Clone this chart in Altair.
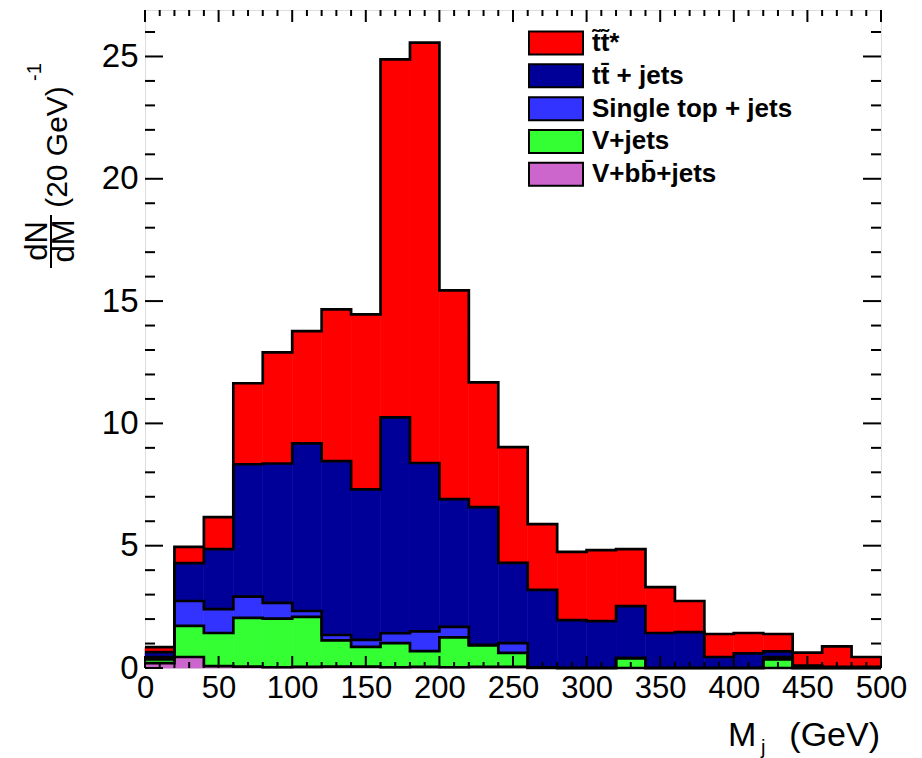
import altair as alt
import pandas as pd
import numpy as np

# ---------------- data ----------------
bin_edges = list(range(0, 501, 20))  # 25 bins of 20 GeV

series_names = ["t̃t̃*", "tt̄ + jets", "Single top + jets", "V+jets", "V+bb̄+jets"]
series_colors = ["#ff0000", "#000099", "#3333ff", "#33ff33", "#cc66cc"]

stop_pair = [0.20, 0.66, 1.31, 3.31, 4.54, 4.59, 6.20, 7.16, 14.63, 17.19, 8.54, 5.10, 4.73,
             2.69, 2.79, 2.90, 2.33, 1.88, 1.27, 0.94, 0.83, 0.71, 0.53, 0.83, 0.40]
ttbar_jets = [0.20, 1.55, 2.45, 5.41, 5.70, 6.85, 7.11, 6.15, 8.83, 6.88, 5.22, 5.63, 3.28,
              3.16, 1.96, 1.92, 2.13, 1.43, 1.47, 0.45, 0.60, 0.23, 0.10, 0.05, 0.05]
single_top = [0.10, 1.02, 0.98, 0.87, 0.64, 0.24, 0.22, 0.29, 0.40, 0.81, 0.43, 0.03, 0.40,
              0.01, 0.0, 0.0, 0.0, 0.0, 0.0, 0.0, 0.0, 0.10, 0.0, 0.0, 0.0]
v_jets = [0.15, 1.27, 1.35, 1.99, 1.99, 2.04, 1.07, 0.80, 0.99, 0.64, 1.22, 0.87, 0.57,
          0.02, 0.0, 0.0, 0.40, 0.0, 0.0, 0.0, 0.0, 0.35, 0.0, 0.0, 0.0]
v_bb_jets = [0.20, 0.45, 0.08, 0.06, 0.03, 0.05, 0.06, 0.06, 0.03, 0.05, 0.03, 0.05, 0.05,
             0.0, 0.0, 0.0, 0.0, 0.0, 0.0, 0.0, 0.0, 0.0, 0.0, 0.0, 0.0]

x_major = list(range(0, 501, 50))
x_minor = [v for v in range(0, 501, 10) if v % 50 != 0]
y_major = list(range(0, 26, 5))
y_minor = [v for v in range(0, 27) if v % 5 != 0]

# ---------------- tables ----------------
stack = [("V+bb̄+jets", v_bb_jets), ("V+jets", v_jets), ("Single top + jets", single_top),
         ("tt̄ + jets", ttbar_jets), ("t̃t̃*", stop_pair)]
lower = np.zeros(len(bin_edges) - 1)
rect_rows, line_rows = [], []
for name, vals in stack:
    upper = lower + np.array(vals)
    for i in range(len(vals)):
        rect_rows.append(dict(series=name, x0=bin_edges[i], x1=bin_edges[i + 1],
                              y0=float(lower[i]), y1=float(upper[i])))
        line_rows.append(dict(series=name, x=bin_edges[i], y=float(upper[i])))
    line_rows.append(dict(series=name, x=bin_edges[-1], y=float(upper[-1])))
    lower = upper
rect_df = pd.DataFrame(rect_rows)
line_df = pd.DataFrame(line_rows)

W, H = 736, 658
FONT = "Liberation Sans"

xscale = alt.Scale(domain=[0, 500], nice=False, zero=False)
yscale = alt.Scale(domain=[0, 26.9], nice=False)
cscale = alt.Scale(domain=series_names, range=series_colors)
xaxis = alt.Axis(values=x_major, title=None, labelFlush=False, labelPadding=5, labelFontSize=31,
                 labelFont=FONT, labelColor="black", ticks=False, domain=False, grid=False)
yaxis = alt.Axis(values=y_major, title=None, labelFlush=False, labelPadding=7, labelFontSize=33,
                 labelFont=FONT, labelColor="black", ticks=False, domain=False, grid=False)

rects = alt.Chart(rect_df).mark_rect(strokeWidth=0.6).encode(
    x=alt.X("x0:Q", scale=xscale, axis=xaxis),
    x2="x1:Q",
    y=alt.Y("y0:Q", scale=yscale, axis=yaxis),
    y2="y1:Q",
    color=alt.Color("series:N", scale=cscale, legend=None),
    stroke=alt.Stroke("series:N", scale=cscale, legend=None),
)

steps = alt.Chart(line_df).mark_line(interpolate="step-after", color="black", strokeWidth=2.7).encode(
    x=alt.X("x:Q", scale=xscale, axis=xaxis),
    y=alt.Y("y:Q", scale=yscale, axis=yaxis),
    detail="series:N",
)


def xticks(vals, y_a, y_b):
    return alt.Chart(pd.DataFrame({"v": vals})).mark_rule(color="black", strokeWidth=2).encode(
        x=alt.X("v:Q", scale=xscale, axis=xaxis), y=alt.value(y_a), y2=alt.value(y_b))


def yticks(vals, x_a, x_b):
    return alt.Chart(pd.DataFrame({"v": vals})).mark_rule(color="black", strokeWidth=2).encode(
        y=alt.Y("v:Q", scale=yscale, axis=yaxis), x=alt.value(x_a), x2=alt.value(x_b))


ticks = [
    xticks(x_major, H, H - 12), xticks(x_minor, H, H - 6),
    xticks(x_major, 0, 12), xticks(x_minor, 0, 6),
    yticks(y_major, 0, 18), yticks(y_minor, 0, 10),
    yticks(y_major, W, W - 18), yticks(y_minor, W, W - 10),
]


def label(txt, x, y, size, angle=0, align="center", baseline="middle", weight="normal"):
    return alt.Chart(pd.DataFrame({"t": [txt]})).mark_text(
        font=FONT, fontSize=size, angle=angle, align=align, baseline=baseline,
        fontWeight=weight, color="black").encode(text="t:N", x=alt.value(x), y=alt.value(y))


frac_bar = alt.Chart(pd.DataFrame({"t": [0]})).mark_rule(color="black", strokeWidth=2).encode(
    x=alt.value(-94), y=alt.value(205), y2=alt.value(258))

titles = [
    label("dN", -107, 231, 31, angle=270),
    label("dM", -80, 231, 31, angle=270),
    frac_bar,
    label("(20 GeV)", -87, 137, 30, angle=270),
    label("-1", -110, 62, 20, angle=270),
    label("M", 583, 736, 34, align="left", baseline="alphabetic"),
    label("j", 616, 744, 20, align="left", baseline="alphabetic"),
    label("(GeV)", 735, 736, 34, align="right", baseline="alphabetic"),
]

main = alt.layer(rects, steps, *ticks, *titles)

leg_df = pd.DataFrame({"series": series_names})
leg_y = alt.Y("series:N", scale=alt.Scale(type="point", domain=series_names, range=[33, 164.3], padding=0),
              axis=None)
box_path = "M-1,-0.426L1,-0.426L1,0.426L-1,0.426Z"
sym = alt.Chart(leg_df).mark_point(shape=box_path, size=2916, filled=True, opacity=1,
                                   stroke="black", strokeWidth=2).encode(
    x=alt.value(411), y=leg_y, color=alt.Color("series:N", scale=cscale, legend=None))
lab = alt.Chart(leg_df).mark_text(align="left", baseline="middle", fontSize=26, fontWeight="bold",
                                  font=FONT, color="black").encode(
    x=alt.value(447), y=leg_y, text="series:N")
legend = alt.layer(sym, lab)

chart = alt.layer(main, legend).resolve_scale(y="independent").properties(
    width=W, height=H,
    autosize=alt.AutoSizeParams(type="none"),
    padding={"left": 145, "top": 10, "right": 41, "bottom": 90},
).configure_view(stroke="black", strokeWidth=2.5).configure(background="white")

chart.save("out.html", embed_options={"renderer": "svg", "actions": False})
